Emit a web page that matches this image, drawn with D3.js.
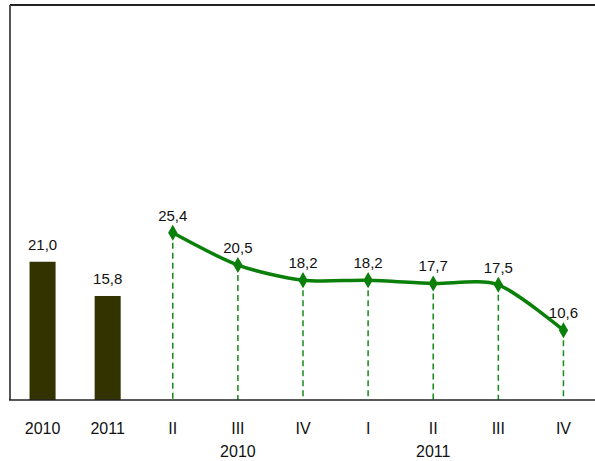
<!DOCTYPE html>
<html>
<head>
<meta charset="utf-8">
<script src="https://cdn.jsdelivr.net/npm/d3@7"></script>
<style>
  body { margin: 0; background: #fff; }
  svg text { font-family: "Liberation Sans", Arial, sans-serif; fill: #111; }
</style>
</head>
<body>
<svg id="chart"></svg>
<script>
// annual bars
const annualCats = ["2010", "2011"];
const annualValues = [21.0, 15.8];

// quarterly line
const quarterLabels = ["II", "III", "IV", "I", "II", "III", "IV"];
const quarterYears = ["2010", "2010", "2010", "2011", "2011", "2011", "2011"];
const quarterValues = [25.4, 20.5, 18.2, 18.2, 17.7, 17.5, 10.6];

const width = 595, height = 461;
const margin = {top: 5, left: 10, right: 0, bottom: 61};

const fmt = d3.formatLocale({decimal: ",", thousands: " ", grouping: [3], currency: ["", ""]}).format(".1f");

const svg = d3.select("#chart").attr("width", width).attr("height", height);

const keys = annualCats.map(d => "a" + d)
    .concat(quarterLabels.map((q, i) => quarterYears[i] + "-" + q + "-" + i));

const x = d3.scaleBand()
    .domain(keys)
    .range([margin.left, width - margin.right + 1])
    .paddingInner(0.6)
    .paddingOuter(0.3);

const y = d3.scaleLinear()
    .domain([0, 60])
    .range([height - margin.bottom, margin.top]);

const cx = k => x(k) + x.bandwidth() / 2;

// frame
svg.append("line")
    .attr("x1", margin.left).attr("x2", width)
    .attr("y1", y(60)).attr("y2", y(60))
    .attr("stroke", "#222").attr("stroke-width", 2);
svg.append("line")
    .attr("x1", margin.left).attr("x2", margin.left)
    .attr("y1", y(60)).attr("y2", y(0))
    .attr("stroke", "#555").attr("stroke-width", 2);

// bars
const bars = annualCats.map((c, i) => ({key: "a" + c, value: annualValues[i]}));
svg.selectAll("rect.bar")
    .data(bars)
    .enter().append("rect")
    .attr("class", "bar")
    .attr("x", d => x(d.key))
    .attr("width", x.bandwidth())
    .attr("y", d => y(d.value))
    .attr("height", d => y(0) - y(d.value))
    .attr("fill", "#333300");

svg.selectAll("text.barlabel")
    .data(bars)
    .enter().append("text")
    .attr("class", "barlabel")
    .attr("x", d => cx(d.key))
    .attr("y", d => y(d.value) - 12)
    .attr("text-anchor", "middle")
    .style("font-size", "15px")
    .text(d => fmt(d.value));

// quarterly points
const pts = quarterValues.map((v, i) => ({key: keys[i + annualCats.length], value: v}));

svg.selectAll("line.drop")
    .data(pts)
    .enter().append("line")
    .attr("class", "drop")
    .attr("x1", d => cx(d.key)).attr("x2", d => cx(d.key))
    .attr("y1", d => y(d.value)).attr("y2", y(0))
    .attr("stroke", "#168a16")
    .attr("stroke-width", 1.5)
    .attr("stroke-dasharray", "6,4");

const line = d3.line()
    .x(d => cx(d.key))
    .y(d => y(d.value))
    .curve(d3.curveCardinal.tension(0.2));

svg.append("path")
    .datum(pts)
    .attr("d", line)
    .attr("fill", "none")
    .attr("stroke", "#0a800a")
    .attr("stroke-width", 3.5);

svg.selectAll("path.marker")
    .data(pts)
    .enter().append("path")
    .attr("class", "marker")
    .attr("transform", d => "translate(" + cx(d.key) + "," + y(d.value) + ")")
    .attr("d", d3.symbol().type(d3.symbolDiamond).size(75)())
    .attr("fill", "#0a800a");

svg.selectAll("text.ptlabel")
    .data(pts)
    .enter().append("text")
    .attr("class", "ptlabel")
    .attr("x", d => cx(d.key))
    .attr("y", d => y(d.value) - 12)
    .attr("text-anchor", "middle")
    .style("font-size", "15px")
    .text(d => fmt(d.value));

// x axis
svg.append("line")
    .attr("x1", margin.left - 1).attr("x2", width)
    .attr("y1", y(0)).attr("y2", y(0))
    .attr("stroke", "#222").attr("stroke-width", 1.5);

const tickText = annualCats.concat(quarterLabels);
svg.selectAll("text.tick")
    .data(keys)
    .enter().append("text")
    .attr("class", "tick")
    .attr("x", d => cx(d))
    .attr("y", 434)
    .attr("text-anchor", "middle")
    .style("font-size", "16px")
    .text((d, i) => tickText[i]);

// year group labels under quarters
const years = Array.from(new Set(quarterYears));
const groups = years.map(yr => {
    const idx = pts.filter((p, i) => quarterYears[i] === yr);
    return {year: yr, key: idx[Math.floor((idx.length - 1) / 2)].key};
});
svg.selectAll("text.group")
    .data(groups)
    .enter().append("text")
    .attr("class", "group")
    .attr("x", d => cx(d.key))
    .attr("y", 457)
    .attr("text-anchor", "middle")
    .style("font-size", "16px")
    .text(d => d.year);
</script>
</body>
</html>
